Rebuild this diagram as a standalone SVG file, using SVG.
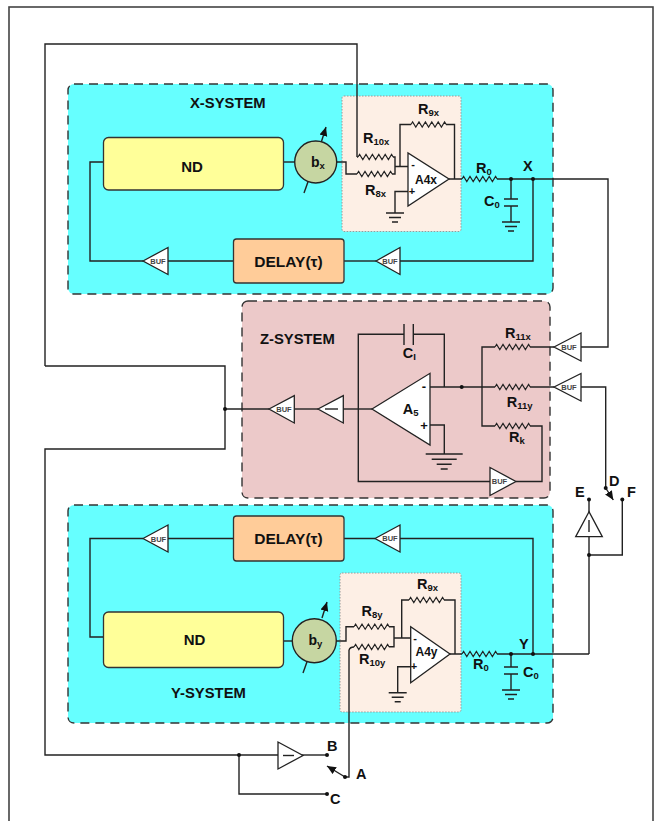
<svg xmlns="http://www.w3.org/2000/svg" width="664" height="821" viewBox="0 0 664 821">
<style>
.w{fill:none;stroke:#222;stroke-width:1.4}
.r{fill:none;stroke:#222;stroke-width:1.1;stroke-linejoin:miter}
.sys{stroke:#333;stroke-width:1.4;stroke-dasharray:9 6}
.box{stroke:#333;stroke-width:1.3}
.tri{fill:#fff;stroke:#222;stroke-width:1.3}
.area{fill:#fdefe5;stroke:#999;stroke-width:1;stroke-dasharray:1.5 1.5}
.circ{fill:#c6d6a2;stroke:#222;stroke-width:1.4}
text{font-family:"Liberation Sans",Arial,sans-serif;font-weight:bold;fill:#111;font-size:14.5px}
.ttl{font-size:14.8px}
.dl{font-size:15.500px;text-anchor:middle}
.t13{font-size:14px}
.sub{font-size:9.5px}
.buf{font-size:7.500px;fill:#444;text-anchor:middle}
.mid{text-anchor:middle;font-size:15px}
.op{font-size:12px;text-anchor:middle}
.pm{font-size:11px;text-anchor:middle}
.pm5{font-size:13px;text-anchor:middle}
</style>
<defs>
<marker id="ah" markerWidth="10" markerHeight="10" refX="9" refY="4.500" orient="auto" markerUnits="userSpaceOnUse"><path d="M0 0.500L9 4.500L0 8.500Z" fill="#111"/></marker>
<circle id="dot" r="2" fill="#111"/>
<path id="res" class="r" d="M0 0l1.600 -2.600l3.200 5.200l3.200 -5.200l3.200 5.200l3.200 -5.200l3.200 5.200l3.200 -5.200l3.200 5.200l3.200 -5.200l3.200 5.200l3.200 -5.200l1.600 2.600"/>
<path id="gnd" class="w" d="M-9 0H9M-6 4.500H6M-3 9H3"/>
</defs>
<rect x="9" y="7" width="644" height="830" fill="#fff" stroke="#444" stroke-width="1.6"/>

<g id="x-system"><rect class="sys" x="68" y="84" width="485" height="210" rx="6" fill="#66ffff"/><text class="ttl" x="190" y="108">X-SYSTEM</text></g>
<g id="z-system"><rect class="sys" x="242" y="301" width="308" height="197" rx="6" fill="#ecc9c9"/><text class="ttl" x="260" y="344">Z-SYSTEM</text></g>
<g id="y-system"><rect class="sys" x="68" y="505" width="485" height="218" rx="6" fill="#66ffff"/><text class="ttl" x="171" y="698">Y-SYSTEM</text></g>
<g id="x-opamp-area"><rect class="area" x="342" y="96" width="119" height="135.500" rx="2"/></g>
<g id="y-opamp-area"><rect class="area" x="340" y="573" width="121" height="139" rx="2"/></g>

<g id="connectors">
<path class="w" d="M45 366V44H357V157"/>
<path class="w" d="M45 366H225V449H45V755H278"/>
<path class="w" d="M239 755V794H327"/>
<path class="w" d="M300 755H327"/>
<path class="w" d="M349 650V777H345"/>
<path class="w" d="M345 777L327 766" marker-end="url(#ah)"/>
<path class="w" d="M269 409H225"/>
<path class="w" d="M294 409H318"/>
<path class="w" d="M343 409H372"/>
<path class="w" d="M103 162H90V261H143"/>
<path class="w" d="M168 261H233"/>
<path class="w" d="M344 261H376"/>
<path class="w" d="M400 261H533V179"/>
<path class="w" d="M283 162H295"/>
<path class="w" d="M337 162H346V174H357"/>
<path class="w" d="M357 157H358M393 157H395V174H392M395 166.500H408"/>
<path class="w" d="M400 166.500V124.500H411M446 124.500H454.500V179"/>
<path class="w" d="M449 179H462M497 179H608V347H581"/>
<path class="w" d="M511 179V199M511 206V222"/>
<path class="w" d="M504 199H518M504 206H518" stroke-width="1.6"/>
<path class="w" d="M408 191.500H395V213"/>
<path class="w" d="M304 193L309 179"/>
<path class="w" d="M321 143L326 127" marker-end="url(#ah)"/>
<path class="w" d="M554 347H530M495 347H482V426H495M530 426H542V481.500H516"/>
<path class="w" d="M430 387H495M530 387H554"/>
<path class="w" d="M444.300 387V334.300H413.300M404 334.300H358.300V481.500H490"/>
<path class="w" d="M404 324V345M413.300 324V345" stroke-width="1.6"/>
<path class="w" d="M430 425H444.300V454"/>
<path class="w" d="M581 387H605.700V488"/>
<path class="w" d="M605.700 488L613.300 500" marker-end="url(#ah)"/>
<path class="w" d="M589 499V512M589 537V654"/>
<path class="w" d="M589 555H622.300V499"/>
<path class="w" d="M233 538.500H168M143 538.500H90V637H103"/>
<path class="w" d="M344 538.500H375M400 538.500H533V654"/>
<path class="w" d="M283 641H292"/>
<path class="w" d="M336 641H346V626.700H354"/>
<path class="w" d="M349 650Q350 647 354 647M389 626.700H394V646.700H389M394 638H411"/>
<path class="w" d="M401.700 638V600H409M444 600H455V654"/>
<path class="w" d="M450 654H462M497 654H589"/>
<path class="w" d="M511 654V667M511 674V690"/>
<path class="w" d="M504 667H518M504 674H518" stroke-width="1.6"/>
<path class="w" d="M411 666.700H397.700V692.700"/>
<path class="w" d="M303 673L308 659"/>
<path class="w" d="M322 618L327 602" marker-end="url(#ah)"/>
<use href="#dot" x="225" y="409"/><use href="#dot" x="239" y="755"/><use href="#dot" x="327" y="755"/><use href="#dot" x="327" y="794"/><use href="#dot" x="345" y="777"/>
<use href="#dot" x="511" y="179"/><use href="#dot" x="533" y="179"/><use href="#dot" x="461.700" y="387"/>
<use href="#dot" x="605.700" y="488"/><use href="#dot" x="589" y="499.500"/><use href="#dot" x="622.300" y="499.500"/><use href="#dot" x="589" y="555"/>
<use href="#dot" x="511" y="654"/><use href="#dot" x="533" y="654"/>
</g>

<g id="nd-x"><rect class="box" x="103.500" y="137.500" width="180" height="52.500" rx="5" fill="#ffff99"/><text class="mid" x="192" y="172">ND</text></g>
<g id="delay-x"><rect class="box" x="233.500" y="239" width="110.500" height="44" rx="3" fill="#ffcc99"/><text class="dl" x="288.500" y="266.500">DELAY(τ)</text></g>
<g id="bx"><circle class="circ" cx="315.700" cy="162" r="21"/><text class="t13" x="311" y="167">b<tspan class="sub" dy="2">x</tspan></text></g>
<g id="buf-x1"><path class="tri" d="M143 261L168 247.500V274.500Z"/><text class="buf" x="158" y="263.500">BUF</text></g>
<g id="buf-x2"><path class="tri" d="M376 261L400 247.500V274.500Z"/><text class="buf" x="390" y="263.500">BUF</text></g>
<g id="r10x"><use href="#res" x="358" y="157"/><text x="363" y="143">R<tspan class="sub" dy="2">10x</tspan></text></g>
<g id="r8x"><use href="#res" x="357" y="174"/><text x="365" y="195">R<tspan class="sub" dy="2">8x</tspan></text></g>
<g id="r9x"><use href="#res" x="411" y="124.500"/><text x="418" y="114">R<tspan class="sub" dy="2">9x</tspan></text></g>
<g id="a4x"><path class="tri" d="M408 153V206L449 179Z"/><text class="op" x="426" y="184">A4x</text><text class="pm" x="413" y="168">-</text><text class="pm" x="412" y="195">+</text></g>
<g id="r0x"><use href="#res" x="462" y="179"/><text x="476" y="173">R<tspan class="sub" dy="2">0</tspan></text></g>
<g id="c0x"><text x="484" y="206">C<tspan class="sub" dy="2">0</tspan></text></g>
<text x="523" y="171">X</text>
<use href="#gnd" x="395" y="213"/><use href="#gnd" x="511" y="222"/>

<g id="buf-z1"><path class="tri" d="M554 347L581 333V361Z"/><text class="buf" x="569" y="349.500">BUF</text></g>
<g id="buf-z2"><path class="tri" d="M554 387L581 373.500V401Z"/><text class="buf" x="569" y="389.500">BUF</text></g>
<g id="buf-z3"><path class="tri" d="M490 467.500V495.500L516 481.500Z"/><text class="buf" x="499.500" y="484">BUF</text></g>
<g id="buf-z4"><path class="tri" d="M269 409L294.300 395.700V423Z"/><text class="buf" x="284" y="411.500">BUF</text></g>
<g id="inv-z"><path class="tri" d="M318 409L343.300 395.700V423Z"/><path class="w" d="M325 409H338"/></g>
<g id="a5"><path class="tri" d="M372 409L430 373.300V445Z"/><text x="402.700" y="413.500">A<tspan class="sub" dy="2">5</tspan></text><text class="pm5" x="424" y="391">-</text><text class="pm5" x="424" y="430">+</text></g>
<g id="r11x"><use href="#res" x="495" y="347"/><text x="505" y="338">R<tspan class="sub" dy="2">11x</tspan></text></g>
<g id="r11y"><use href="#res" x="495" y="387"/><text x="506.700" y="407">R<tspan class="sub" dy="2">11y</tspan></text></g>
<g id="rk"><use href="#res" x="495" y="426"/><text x="509" y="442">R<tspan class="sub" dy="2">k</tspan></text></g>
<g id="ci"><text x="402.700" y="358">C<tspan class="sub" dy="2">I</tspan></text></g>
<g id="gnd-z"><path class="w" d="M425.700 454H462.700M431.700 459.300H456.700M436.700 464.300H451.700M440.700 469H447.700"/></g>

<g id="nd-y"><rect class="box" x="103.500" y="612" width="180" height="55.500" rx="5" fill="#ffff99"/><text class="mid" x="194.500" y="645">ND</text></g>
<g id="delay-y"><rect class="box" x="233.500" y="516" width="110.500" height="45" rx="3" fill="#ffcc99"/><text class="dl" x="288.500" y="544">DELAY(τ)</text></g>
<g id="by"><circle class="circ" cx="314.300" cy="640.700" r="22"/><text class="t13" x="308.500" y="645">b<tspan class="sub" dy="2">y</tspan></text></g>
<g id="buf-y1"><path class="tri" d="M143 538.500L168 525V552Z"/><text class="buf" x="158.500" y="541.500">BUF</text></g>
<g id="buf-y2"><path class="tri" d="M375 538.500L400 525V552Z"/><text class="buf" x="390" y="541">BUF</text></g>
<g id="r8y"><use href="#res" x="354" y="626.700"/><text x="361.500" y="616">R<tspan class="sub" dy="2">8y</tspan></text></g>
<g id="r10y"><use href="#res" x="354" y="647"/><text x="359" y="664">R<tspan class="sub" dy="2">10y</tspan></text></g>
<g id="r9y"><use href="#res" x="409" y="600"/><text x="417" y="589">R<tspan class="sub" dy="2">9x</tspan></text></g>
<g id="a4y"><path class="tri" d="M410.700 626.700V682.700L450 654Z"/><text class="op" x="426.500" y="656">A4y</text><text class="pm" x="415" y="642">-</text><text class="pm" x="414" y="670">+</text></g>
<g id="r0y"><use href="#res" x="462" y="654"/><text x="473" y="669">R<tspan class="sub" dy="2">0</tspan></text></g>
<g id="c0y"><text x="523" y="677">C<tspan class="sub" dy="2">0</tspan></text></g>
<text x="519" y="649">Y</text>
<use href="#gnd" x="397.700" y="692.700"/><use href="#gnd" x="511" y="690"/>

<g id="amp-e"><path class="tri" d="M589 511.700L575.700 536.700H602.300Z"/><path class="w" d="M589 520V532"/></g>
<text x="575" y="497">E</text><text x="609" y="486">D</text><text x="627" y="497">F</text>
<g id="amp-b"><path class="tri" d="M278 742V769L303 755.500Z"/><path class="w" d="M283 755.500H294"/></g>
<text x="327" y="751">B</text><text x="356" y="779">A</text><text x="330" y="804">C</text>
</svg>
